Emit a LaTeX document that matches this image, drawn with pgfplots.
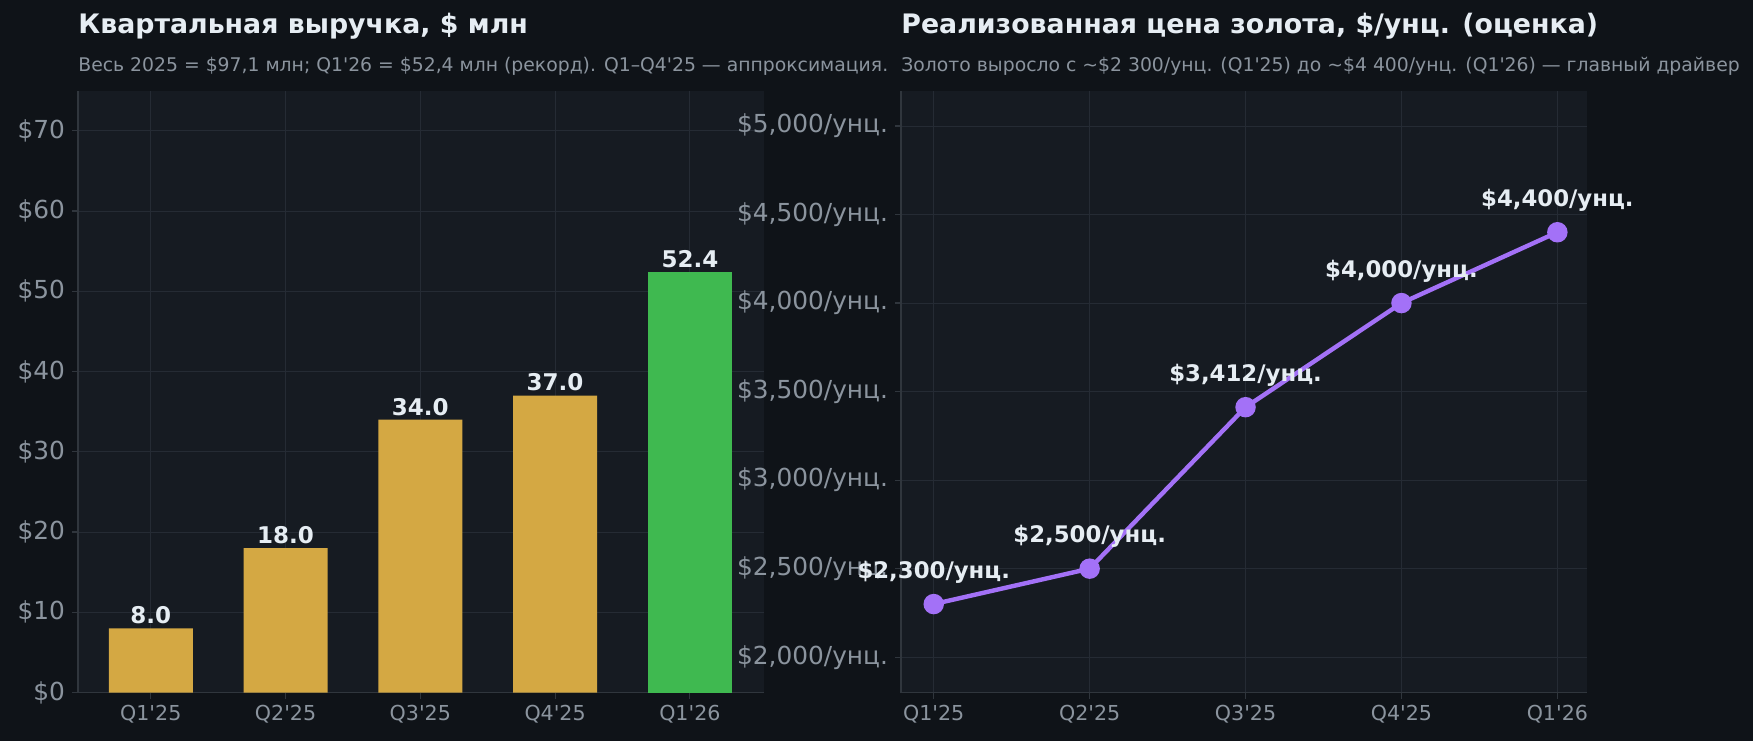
\documentclass[border=0pt]{standalone}
\usepackage{pgfplots}
\pgfplotsset{compat=1.18}
\usepackage{fontspec}
\setmainfont{DejaVu Sans}

\definecolor{figbg}{HTML}{0F1318}
\definecolor{axbg}{HTML}{161B22}
\definecolor{gridc}{HTML}{252B34}
\definecolor{spine}{HTML}{30363D}
\definecolor{ticklab}{HTML}{8B949E}
\definecolor{titlec}{HTML}{E6EDF3}
\definecolor{gold}{HTML}{D4A843}
\definecolor{greenbar}{HTML}{3FB950}
\definecolor{purple}{HTML}{A371F7}

\newcommand{\q}{\textquotesingle}

\pgfplotsset{
  darkax/.style={
    scale only axis,
    width=343pt, height=301pt,
    anchor=south west,
    axis background/.style={fill=axbg},
    axis x line*=bottom, axis y line*=left,
    axis line style={-, draw=spine, line width=0.6pt},
    grid=major,
    major grid style={draw=gridc, line width=0.5pt},
    tick align=outside,
    major tick length=3pt,
    tick style={draw=spine, line width=0.6pt},
    /pgf/number format/assume math mode=true,
    xtick={0,1,2,3,4},
    xticklabels={Q1\q25, Q2\q25, Q3\q25, Q4\q25, Q1\q26},
    x tick label style={font=\fontsize{10.3}{12}\selectfont, text=ticklab},
    y tick label style={font=\fontsize{12.4}{14}\selectfont, text=ticklab},
  }
}

\begin{document}
\begin{tikzpicture}
\fill[figbg] (0,0) rectangle (876.5pt,370.5pt);

% titles
\node[anchor=base west, inner sep=0, text=titlec, font=\fontsize{13.4}{16}\selectfont\bfseries]
  at (39pt,353.5pt) {Квартальная выручка, \$ млн};
\node[anchor=base west, inner sep=0, text=ticklab, font=\fontsize{9.4}{11}\selectfont]
  at (39pt,334.5pt) {Весь 2025 = \$97,1 млн; Q1\q26 = \$52,4 млн (рекорд). Q1–Q4\q25 — аппроксимация.};
\node[anchor=base west, inner sep=0, text=titlec, font=\fontsize{13.4}{16}\selectfont\bfseries]
  at (450.5pt,353.5pt) {Реализованная цена золота, \$/унц. (оценка)};
\node[anchor=base west, inner sep=0, text=ticklab, font=\fontsize{9.4}{11}\selectfont]
  at (450.5pt,334.5pt) {Золото выросло с \textasciitilde\$2 300/унц. (Q1\q25) до \textasciitilde\$4 400/унц. (Q1\q26) — главный драйвер};

% revenue
\begin{axis}[darkax,
    at={(39pt,24.2pt)},
    xmin=-0.54, xmax=4.55,
    ymin=0, ymax=75,
    ytick={0,10,...,70},
    yticklabel={\$\pgfmathprintnumber{\tick}},
    nodes near coords={\pgfmathprintnumber[fixed, fixed zerofill, precision=1]{\pgfplotspointmeta}},
    nodes near coords style={anchor=center, yshift=6.5pt, inner sep=0, text=titlec,
      font=\fontsize{11.5}{13}\selectfont\bfseries},
]
\addplot[ybar, bar width=42pt, fill=gold, draw=none] coordinates {
  (0,8.0) (1,18.0) (2,34.0) (3,37.0)
};
\addplot[ybar, bar width=42pt, fill=greenbar, draw=none] coordinates {
  (4,52.4)
};
\end{axis}

% gold price
\begin{axis}[darkax,
    at={(450.5pt,24.2pt)},
    xmin=-0.21, xmax=4.19,
    ymin=1800, ymax=5200,
    ytick={2000,2500,...,5000},
    yticklabel={\$\pgfmathprintnumber[1000 sep={,}]{\tick}/унц.},
    nodes near coords={\$\pgfmathprintnumber[1000 sep={,}]{\pgfplotspointmeta}/унц.},
    nodes near coords style={anchor=center, yshift=16pt, inner sep=0, text=titlec,
      font=\fontsize{11.4}{13}\selectfont\bfseries},
]
\addplot[purple, line width=2.2pt, mark=*, mark size=4pt,
  mark options={fill=purple, draw=purple}] coordinates {
  (0,2300) (1,2500) (2,3412) (3,4000) (4,4400)
};
\end{axis}

\pgfresetboundingbox
\path (0,0) rectangle (876.5pt,370.5pt);
\end{tikzpicture}
\end{document}
